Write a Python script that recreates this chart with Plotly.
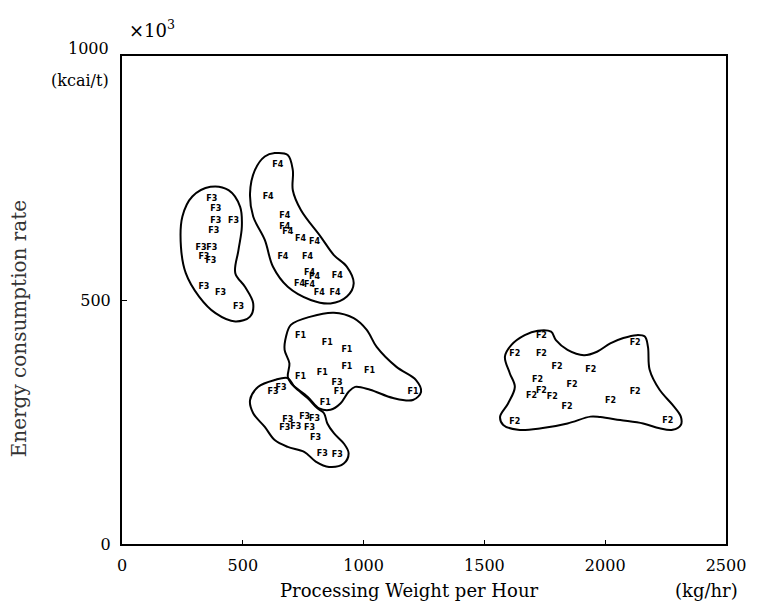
import plotly.graph_objects as go

# ---------------- data ----------------
x_ticks = [0, 500, 1000, 1500, 2000, 2500]
x_tick_labels = ["0", "500", "1000", "1500", "2000", "2500"]
y_ticks = [0, 500]
y_tick_labels = ["0", "500"]

f1_x = [739, 850, 931, 931, 1025, 739, 829, 899, 841, 1205]
f1_y = [426, 412, 398, 363, 355, 342, 350, 311, 289, 311]

f2_x = [1736, 1626, 1736, 1801, 1940, 2124, 1720, 1695, 1736, 1781, 1863, 1842, 2022, 2124, 1626, 2259]
f2_y = [426, 389, 389, 363, 357, 412, 336, 303, 314, 301, 326, 281, 293, 311, 250, 252]

f3_x = [372, 388, 388, 462, 380, 327, 372, 339, 368, 339, 408, 482,
        625, 658, 686, 756, 797, 674, 719, 776, 801, 829, 891, 890]
f3_y = [707, 686, 662, 662, 641, 607, 607, 588, 580, 527, 514, 486,
        311, 320, 254, 260, 256, 238, 240, 238, 217, 184, 182, 330]

f4_x = [645, 605, 674, 674, 686, 739, 797, 666, 768, 776, 797, 891, 735, 776, 817, 882]
f4_y = [777, 711, 672, 650, 639, 625, 619, 588, 588, 555, 547, 549, 533, 531, 514, 514]

# group boundaries (hand-drawn closed loops)
loop_f3a_x = [366, 441, 489, 496, 482, 469, 509, 543, 530, 469, 387, 319, 264, 244, 250, 291]
loop_f3a_y = [732, 725, 691, 650, 602, 555, 527, 493, 466, 456, 473, 507, 555, 609, 671, 712]

loop_f4_x = [632, 686, 707, 707, 741, 822, 877, 931, 959, 931, 863, 781, 686, 625, 591, 543, 530, 550, 591]
loop_f4_y = [801, 797, 766, 725, 684, 630, 592, 568, 534, 507, 493, 500, 527, 568, 623, 671, 719, 766, 794]

loop_f1_x = [679, 699, 781, 877, 959, 1013, 1054, 1136, 1217, 1238, 1204, 1122, 1027, 965, 938, 904, 863, 816, 768, 700, 686, 693, 673]
loop_f1_y = [425, 449, 466, 474, 463, 439, 404, 363, 336, 312, 295, 299, 316, 322, 312, 288, 275, 278, 302, 329, 343, 370, 398]

loop_f3b_x = [686, 632, 564, 530, 543, 591, 632, 686, 754, 802, 857, 918, 938, 918, 877, 850, 836, 809, 768, 714]
loop_f3b_y = [340, 336, 322, 295, 268, 240, 213, 199, 189, 169, 158, 165, 186, 206, 227, 247, 268, 278, 299, 322]

loop_f2_x = [1667, 1721, 1776, 1796, 1844, 1912, 1966, 2021, 2075, 2129, 2164, 2177, 2184, 2225, 2279, 2313, 2313, 2279,
             2225, 2157, 2062, 1980, 1939, 1844, 1735, 1639, 1578, 1565, 1598, 1626, 1605, 1585, 1612]
loop_f2_y = [428, 437, 435, 418, 398, 387, 394, 411, 422, 428, 425, 404, 357, 316, 285, 261, 244, 234,
             237, 247, 254, 260, 261, 247, 237, 234, 244, 261, 288, 322, 350, 384, 408]

# ---------------- figure ----------------
SERIF = "DejaVu Serif"
fig = go.Figure()

for lx, ly in [(loop_f3a_x, loop_f3a_y), (loop_f4_x, loop_f4_y), (loop_f1_x, loop_f1_y),
               (loop_f3b_x, loop_f3b_y), (loop_f2_x, loop_f2_y)]:
    fig.add_trace(go.Scatter(
        x=lx + lx[:1], y=ly + ly[:1], mode="lines",
        line=dict(color="black", width=2, shape="spline", smoothing=1.0),
        hoverinfo="skip", showlegend=False))

for name, xs, ys in [("F1", f1_x, f1_y), ("F2", f2_x, f2_y), ("F3", f3_x, f3_y), ("F4", f4_x, f4_y)]:
    fig.add_trace(go.Scatter(
        x=xs, y=ys, mode="text", text=[name] * len(xs), name=name,
        textfont=dict(family="DejaVu Sans", size=8, color="black", weight="bold"),
        textposition="middle center", showlegend=False))

fig.update_xaxes(
    range=[0, 2500], tickvals=x_ticks, ticktext=x_tick_labels,
    showline=True, mirror=True, linecolor="black", linewidth=2,
    showgrid=False, zeroline=False, ticks="inside", ticklen=4, tickcolor="black",
    tickfont=dict(family=SERIF, size=16, color="black"), ticklabelstandoff=6)
fig.update_yaxes(
    range=[0, 1000], tickvals=y_ticks, ticktext=y_tick_labels,
    showline=True, mirror=True, linecolor="black", linewidth=2,
    showgrid=False, zeroline=False, ticks="inside", ticklen=5, tickcolor="black",
    tickfont=dict(family=SERIF, size=16, color="black"), ticklabelstandoff=6)

ann_font = dict(family=SERIF, size=16, color="black")
fig.add_annotation(text="1000", xref="paper", x=0, yref="y", y=1000, xanchor="right",
                   yanchor="middle", xshift=-11, yshift=8, showarrow=False, font=ann_font)
fig.add_annotation(text="(kcai/t)", xref="paper", x=0, yref="y", y=1000, xanchor="right",
                   yanchor="middle", xshift=-11, yshift=-24, showarrow=False, font=ann_font)
fig.add_annotation(text="×10<sup>3</sup>", xref="paper", x=0, yref="paper", y=1, xanchor="left",
                   yanchor="middle", xshift=5, yshift=27, showarrow=False,
                   font=dict(family=SERIF, size=18, color="black"))
fig.add_annotation(text="Processing Weight per Hour", xref="paper", x=0.475, yref="paper", y=0,
                   xanchor="center", yanchor="middle", yshift=-46, showarrow=False,
                   font=dict(family=SERIF, size=18, color="black"))
fig.add_annotation(text="(kg/hr)", xref="paper", x=0.967, yref="paper", y=0,
                   xanchor="center", yanchor="middle", yshift=-46, showarrow=False,
                   font=dict(family=SERIF, size=18, color="black"))
fig.add_annotation(text="Energy consumption rate", xref="paper", x=0, yref="paper", y=0.44,
                   xanchor="center", yanchor="middle", xshift=-103, textangle=-90, showarrow=False,
                   font=dict(family=SERIF, size=20, color="#333"))

fig.update_layout(
    width=758, height=605,
    margin=dict(l=122, r=24, t=56, b=61),
    paper_bgcolor="white", plot_bgcolor="white",
    showlegend=False)

fig.write_html("out.html")
